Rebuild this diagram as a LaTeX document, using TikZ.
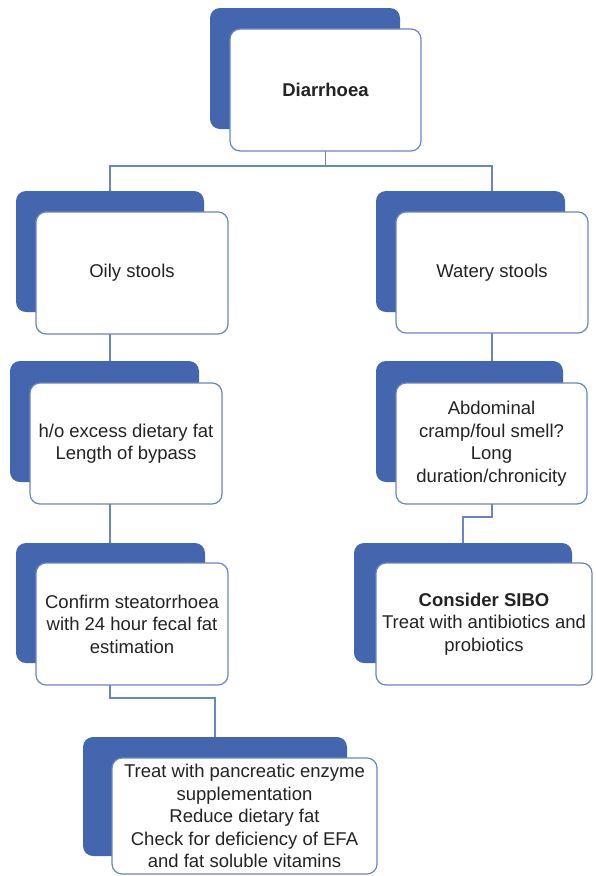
\documentclass[tikz,border=0pt]{standalone}
\usepackage{fontspec}
\setmainfont{Liberation Sans}
\definecolor{shblue}{RGB}{68,102,174}
\definecolor{edgeblue}{RGB}{105,133,198}
\definecolor{txt}{RGB}{35,35,35}
\begin{document}
\begin{tikzpicture}[x=1pt,y=-1pt,
  shbox/.style={draw=none,fill=shblue,rounded corners=10pt,anchor=north west,inner sep=0pt,outer sep=0pt},
  wbox/.style={draw=edgeblue,line width=1.2pt,fill=white,rounded corners=10pt,anchor=north west,inner sep=0pt,outer sep=0pt,
    text=txt,align=center,font=\fontsize{18.5}{22.5}\selectfont},
  conn/.style={draw=edgeblue,line width=1.2pt}]
\useasboundingbox (0,0) rectangle (595,876);
\coordinate (split) at (0,166);
\coordinate (jr) at (0,517);
\coordinate (jl) at (0,698);
% Diarrhoea
\node[shbox,minimum width=190pt,minimum height=121pt] (dS) at (210,8) {};
\node[wbox,minimum width=191pt,minimum height=122pt] (d) at (230,29) {\textbf{Diarrhoea}};
% Oily
\node[shbox,minimum width=188pt,minimum height=121pt] (oS) at (16,191) {};
\node[wbox,minimum width=192pt,minimum height=122pt] (o) at (36,212) {Oily stools};
% Watery
\node[shbox,minimum width=189pt,minimum height=121pt] (wS) at (376,191) {};
\node[wbox,minimum width=192pt,minimum height=121pt] (w) at (396,212) {Watery stools};
% h/o
\node[shbox,minimum width=189pt,minimum height=121pt] (hS) at (10,361) {};
\node[wbox,minimum width=192pt,minimum height=121pt] (h) at (30,383) {h/o excess dietary fat\\Length of bypass};
% Abdominal
\node[shbox,minimum width=187pt,minimum height=121pt] (aS) at (376,361) {};
\node[wbox,minimum width=191pt,minimum height=121pt] (a) at (396,383) {Abdominal\\cramp/foul smell?\\Long\\duration/chronicity};
% Confirm
\node[shbox,minimum width=189pt,minimum height=120pt] (cS) at (16,543) {};
\node[wbox,minimum width=192pt,minimum height=122pt] (c) at (36,563) {Confirm steatorrhoea\\with 24 hour fecal fat\\estimation};
% SIBO
\node[shbox,minimum width=218pt,minimum height=120pt] (sS) at (354,543) {};
\node[wbox,minimum width=216pt,minimum height=122pt] (s) at (376,563) {\textbf{Consider SIBO}\\Treat with antibiotics and\\probiotics};
% Treat
\node[shbox,minimum width=264pt,minimum height=119pt] (tS) at (83,737) {};
\node[wbox,minimum width=265pt,minimum height=116pt] (t) at (112,758) {Treat with pancreatic enzyme\\supplementation\\Reduce dietary fat\\Check for deficiency of EFA\\and fat soluble vitamins};
% connectors
\draw[conn] (d.south) -- (d.south |- split) -- (split -| oS.north) -- (oS.north);
\draw[conn] (d.south |- split) -- (split -| w.south) -- (w.south |- wS.north);
\draw[conn] (o.south -| oS.north) -- (hS.north -| oS.north);
\draw[conn] (w.south) -- (aS.north -| w.south);
\draw[conn] (h.south -| oS.north) -- (cS.north -| oS.north);
\draw[conn] (a.south -| w.south) -- (jr -| w.south) -- (jr -| sS.north) -- (sS.north);
\draw[conn] (c.south -| oS.north) -- (jl -| oS.north) -- (jl -| tS.north) -- (tS.north);
\end{tikzpicture}
\end{document}
